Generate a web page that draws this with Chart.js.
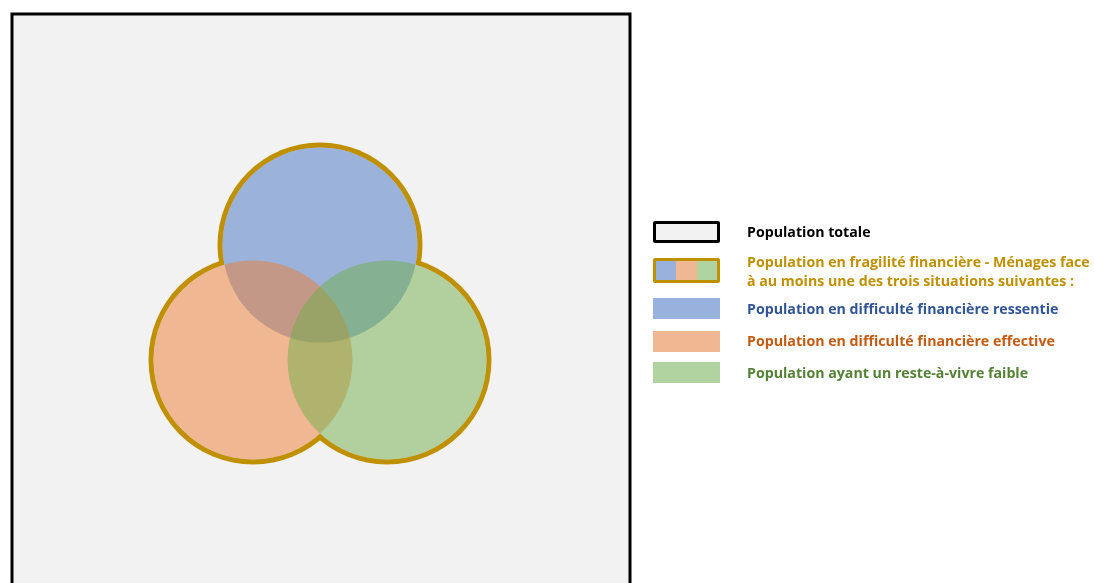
<!DOCTYPE html>
<html>
<head>
<meta charset="utf-8">
<script src="https://cdn.jsdelivr.net/npm/chart.js@4"></script>
<style>
  body { margin: 0; background: #ffffff; }
  #wrap { position: relative; width: 1094px; height: 583px; overflow: hidden; }
  #venn { position: absolute; left: 0; top: 0; }
  .key { position: absolute; left: 653px; width: 67px; box-sizing: border-box; }
  .lbl { position: absolute; left: 747px; font-family: 'Open Sans', sans-serif; font-weight: bold; font-size: 14.2px; line-height: 19px; white-space: nowrap; }
</style>
</head>
<body>
<div id="wrap">
  <canvas id="venn" width="1094" height="583"></canvas>

  <div class="key" style="top:221px;height:22px;border:3px solid #000;background:#f2f2f2;border-radius:2px;"></div>
  <div class="lbl" style="top:222px;color:#000000;">Population totale</div>

  <div class="key" style="top:258px;height:25px;border:3px solid #bf9000;border-radius:2px;display:flex;">
    <div style="flex:1;background:#98b1dd;"></div>
    <div style="flex:1;background:#f0b892;"></div>
    <div style="flex:1;background:#b1d39f;"></div>
  </div>
  <div class="lbl" style="top:252px;color:#bf9000;">Population en fragilité financière - Ménages face<br>à au moins une des trois situations suivantes :</div>

  <div class="key" style="top:298px;height:21px;background:#98b1dd;"></div>
  <div class="lbl" style="top:299px;color:#2f5597;">Population en difficulté financière ressentie</div>

  <div class="key" style="top:331px;height:21px;background:#f0b892;"></div>
  <div class="lbl" style="top:331px;color:#c55a11;">Population en difficulté financière effective</div>

  <div class="key" style="top:362px;height:21px;background:#b1d39f;"></div>
  <div class="lbl" style="top:363px;color:#548235;">Population ayant un reste-à-vivre faible</div>
</div>

<script>
// Venn : population en fragilité financière

// cercles : ressentie (bleu), effective (orange), reste-à-vivre faible (vert)
var circleNames = ['ressentie', 'effective', 'reste-à-vivre faible'];
var circleX = [320, 253, 387];
var circleY = [245, 360, 360];
var circleR = [100, 102, 102];
var circleColors = ['rgba(68,114,196,0.5)', 'rgba(237,125,49,0.5)', 'rgba(112,173,71,0.5)'];

// cadre population totale  [x1, y1, x2, y2]
var totalBox = [12, 14, 630, 600];

var ringColor = '#bf9000';
var ringWidth = 5;
var bgColor = '#f2f2f2';

function pts(dr) {
  return circleX.map(function (x, i) {
    return { x: x, y: circleY[i], r: circleR[i] + dr };
  });
}

// chart.js dessine le dataset 0 par-dessus : on empile du haut vers le bas
var datasets = [];
circleNames.forEach(function (name, i) {
  datasets.unshift({
    label: name,
    data: [{ x: circleX[i], y: circleY[i], r: circleR[i] - ringWidth / 2 }],
    backgroundColor: circleColors[i],
    borderWidth: 0
  });
});
// fond puis contour or de l'union (dessous)
datasets.push({ label: 'fond', data: pts(-ringWidth / 2), backgroundColor: bgColor, borderWidth: 0 });
datasets.push({ label: 'contour', data: pts(ringWidth / 2), backgroundColor: ringColor, borderWidth: 0 });

var boxPlugin = {
  id: 'totalBox',
  beforeDatasetsDraw: function (chart) {
    var ctx = chart.ctx, xs = chart.scales.x, ys = chart.scales.y;
    var x1 = xs.getPixelForValue(totalBox[0]), x2 = xs.getPixelForValue(totalBox[2]);
    var y1 = ys.getPixelForValue(totalBox[1]), y2 = ys.getPixelForValue(totalBox[3]);
    ctx.save();
    ctx.fillStyle = bgColor;
    ctx.fillRect(x1, y1, x2 - x1, y2 - y1);
    ctx.strokeStyle = '#000';
    ctx.lineWidth = 3;
    ctx.strokeRect(x1, y1, x2 - x1, y2 - y1);
    ctx.restore();
  }
};

new Chart(document.getElementById('venn'), {
  type: 'bubble',
  data: { datasets: datasets },
  options: {
    responsive: false,
    animation: false,
    devicePixelRatio: 1,
    events: [],
    layout: { padding: 0, autoPadding: false },
    clip: false,
    plugins: { legend: { display: false }, tooltip: { enabled: false } },
    scales: {
      x: { type: 'linear', min: 0, max: 1094, display: false },
      y: { type: 'linear', min: 0, max: 583, reverse: true, display: false }
    }
  },
  plugins: [boxPlugin]
});
</script>
</body>
</html>
